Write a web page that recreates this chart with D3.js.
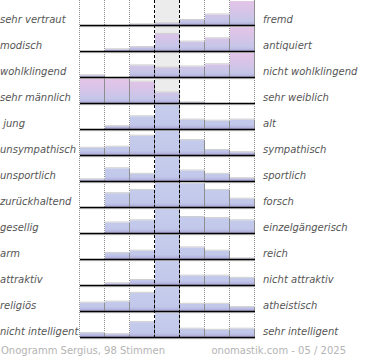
<!DOCTYPE html>
<html><head><meta charset="utf-8">
<script src="https://cdn.jsdelivr.net/npm/d3@7/dist/d3.min.js"></script>
<style>html,body{margin:0;padding:0;background:#fff;} svg{display:block;}</style>
</head><body>
<svg id="chart" width="370" height="360"></svg>
<script>
// ---- data ----
const steps = ["-3","-2","-1","0","1","2","3"];
const leftLabels = ["sehr vertraut","modisch","wohlklingend","sehr männlich"," jung","unsympathisch","unsportlich","zurückhaltend","gesellig","arm","attraktiv","religiös","nicht intelligent"];
const rightLabels = ["fremd","antiquiert","nicht wohlklingend","sehr weiblich","alt","sympathisch","sportlich","forsch","einzelgängerisch","reich","nicht attraktiv","atheistisch","sehr intelligent"];
// percentage of votes per step, one row per scale
const shares = [
  [0, 0, 1, 2, 5, 10, 82],
  [0, 2, 4, 16, 9, 12, 57],
  [2, 0, 11, 9, 10, 12, 56],
  [34, 35, 20, 10, 1, 0, 0],
  [0, 3, 12, 59, 9, 8, 9],
  [7, 8, 18, 45, 14, 5, 3],
  [2, 12, 7, 59, 10, 7, 3],
  [0, 13, 16, 25, 22, 16, 8],
  [0, 10, 12, 37, 15, 14, 12],
  [0, 6, 8, 66, 11, 8, 1],
  [0, 2, 5, 68, 9, 9, 7],
  [8, 9, 17, 48, 7, 7, 4],
  [4, 3, 14, 56, 8, 7, 8]
];
const pinkRows = [0, 1, 2, 3];
const footerLeft = "Onogramm Sergius, 98 Stimmen";
const footerRight = "onomastik.com - 05 / 2025";

// ---- drawing ----
const svg = d3.select("#chart");
const x = d3.scaleBand().domain(steps).range([80, 255]);
const rowIdx = d3.range(leftLabels.length);
const y = d3.scaleBand().domain(rowIdx).range([-0.5, 337.5]);
const maxH = 24.5;
const h = d3.scaleLinear().domain([0, 100]).range([0, 110]);
const base = i => y(i) + y.bandwidth();

const defs = svg.append("defs");
rowIdx.forEach(i => {
  const pink = pinkRows.includes(i);
  const g = defs.append("linearGradient").attr("id", "g" + i)
    .attr("gradientUnits", "userSpaceOnUse")
    .attr("x1", 0).attr("x2", 0).attr("y1", base(i) - 25).attr("y2", base(i));
  const stops = pink
    ? [[0, "#e4c5e8"], [0.45, "#d6c4e8"], [0.8, "#c6c6e8"], [0.9, "#bdbde4"], [1, "#a49ccd"]]
    : [[0, "#c6cdec"], [0.8, "#c2c8ea"], [0.9, "#b8b9e2"], [1, "#a49ccd"]];
  stops.forEach(s => g.append("stop").attr("offset", s[0]).attr("stop-color", s[1]));
});

// middle column background
svg.append("rect").attr("x", x("0")).attr("y", 0).attr("width", x.bandwidth())
  .attr("height", base(rowIdx.length - 1)).attr("fill", "#ececec");

// dotted grid
const dotted = [x("-3"), x("-2"), x("-1"), x("2"), x("3"), x("3") + x.bandwidth()];
svg.selectAll("line.dot").data(dotted).join("line").attr("class", "dot")
  .attr("x1", d => d - 0.5).attr("x2", d => d - 0.5)
  .attr("y1", 0).attr("y2", base(rowIdx.length - 1))
  .attr("stroke", "#8a8a8a").attr("stroke-width", 1).attr("stroke-dasharray", "1,1");

// bars
rowIdx.forEach(i => {
  const g = svg.append("g");
  const data = shares[i].map((v, j) => ({ v, s: steps[j] }))
    .filter(d => d.v > 0);
  data.forEach(d => {
    const full = h(d.v);
    const hh = Math.min(full, maxH);
    const x0 = x(d.s), w = x.bandwidth();
    g.append("rect").attr("x", x0).attr("y", base(i) - hh).attr("width", w).attr("height", hh)
      .attr("fill", "url(#g" + i + ")");
    g.append("line").attr("x1", x0 + w - 0.5).attr("x2", x0 + w - 0.5)
      .attr("y1", base(i) - hh).attr("y2", base(i))
      .attr("stroke", "#8e8e8e").attr("stroke-width", 1);
    if (full < maxH) {
      g.append("line").attr("x1", x0).attr("x2", x0 + w)
        .attr("y1", base(i) - hh - 0.5).attr("y2", base(i) - hh - 0.5)
        .attr("stroke", "#cfcfcf").attr("stroke-width", 1);
    }
  });
  // baseline
  svg.append("line").attr("x1", 80).attr("x2", 255)
    .attr("y1", base(i) + 1.2).attr("y2", base(i) + 1.2)
    .attr("stroke", "#c4c4c4").attr("stroke-width", 1);
  svg.append("line").attr("x1", 80).attr("x2", 255)
    .attr("y1", base(i)).attr("y2", base(i))
    .attr("stroke", "#000").attr("stroke-width", 1.6);
});

// dashed lines around neutral column
svg.selectAll("line.dash").data([x("0"), x("1")]).join("line").attr("class", "dash")
  .attr("x1", d => d - 0.5).attr("x2", d => d - 0.5)
  .attr("y1", 0).attr("y2", base(rowIdx.length - 1))
  .attr("stroke", "#000").attr("stroke-width", 1).attr("stroke-dasharray", "3,2");

// labels
const font = "'DejaVu Sans', sans-serif";
svg.selectAll("text.l").data(leftLabels).join("text").attr("class", "l")
  .attr("x", 0).attr("y", (d, i) => base(i) - 3)
  .attr("xml:space", "preserve").style("white-space", "pre")
  .attr("font-family", font).attr("font-size", 10).attr("font-style", "italic")
  .attr("fill", "#555").text(d => d);
svg.selectAll("text.r").data(rightLabels).join("text").attr("class", "r")
  .attr("x", 263).attr("y", (d, i) => base(i) - 3)
  .attr("font-family", font).attr("font-size", 10).attr("font-style", "italic")
  .attr("fill", "#555").text(d => d);

svg.append("text").attr("x", 1).attr("y", 354).attr("font-family", font).attr("font-size", 10)
  .attr("fill", "#b4b4b4").text(footerLeft);
svg.append("text").attr("x", 346).attr("y", 354).attr("text-anchor", "end").attr("font-family", font)
  .attr("font-size", 10).attr("fill", "#b4b4b4").text(footerRight);
</script>
</body></html>
